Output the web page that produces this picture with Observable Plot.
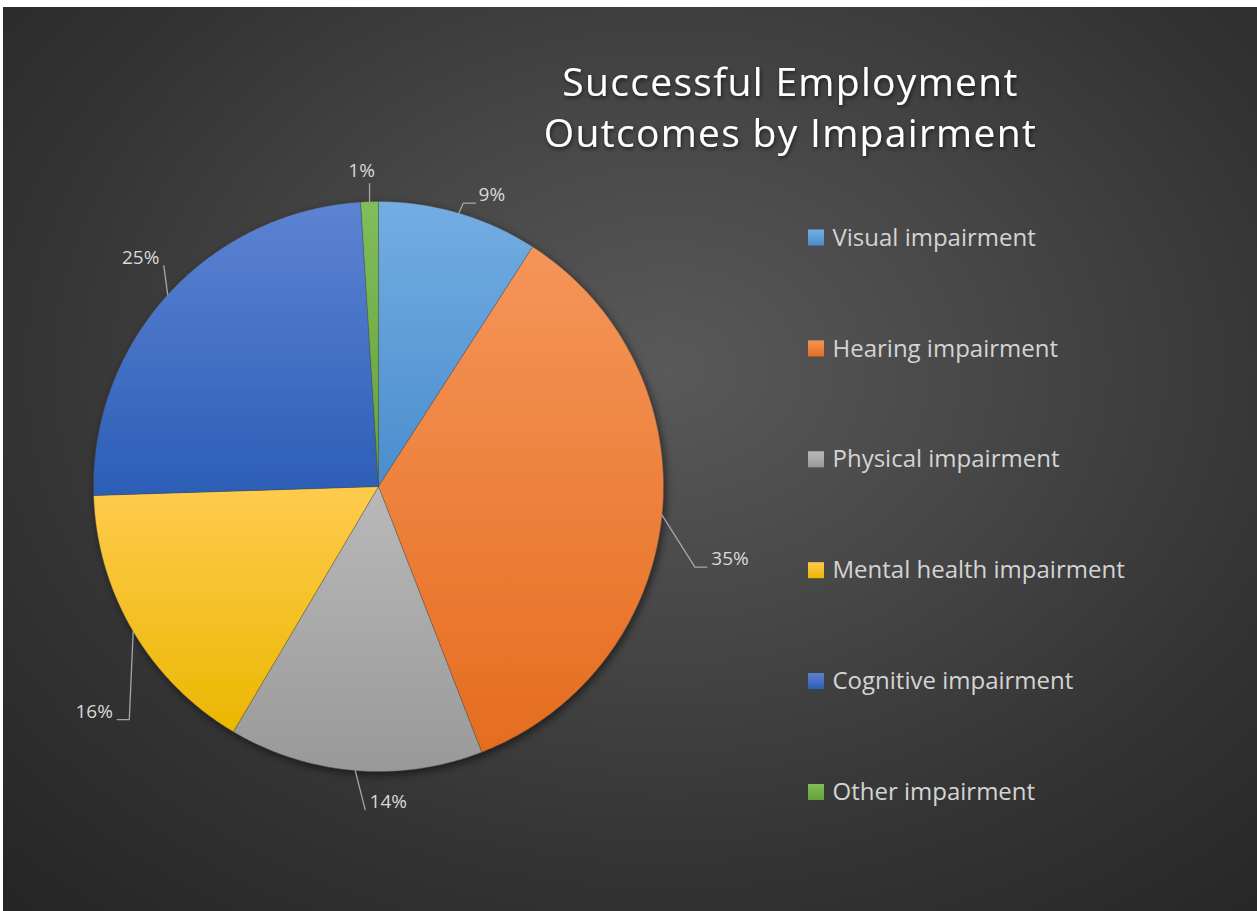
<!DOCTYPE html>
<html><head><meta charset="utf-8">
<script src="https://cdn.jsdelivr.net/npm/d3@7"></script>
<script src="https://cdn.jsdelivr.net/npm/@observablehq/plot@0.6"></script>
<style>
html,body{margin:0;padding:0;background:#fff;}
#chart{position:absolute;left:3px;top:7px;}
</style></head><body><div id="chart"></div>
<script>
// ---- data ----
const categories = ["Visual impairment","Hearing impairment","Physical impairment","Mental health impairment","Cognitive impairment","Other impairment"];
const shares = [9.1, 35.0, 14.4, 16.0, 24.5, 1.0];
const pctLabels = ["9%","35%","14%","16%","25%","1%"];
const titleLines = ["Successful Employment","Outcomes by Impairment"];

// ---- style / layout ----
const gradTop    = ["#74ADE2","#F5955A","#B9B9B9","#FFCB4E","#5D83D3","#80BD5C"];
const gradBottom = ["#4A8DCF","#E56D1E","#999999","#EBB700","#2C5EB6","#64A13B"];
const W = 1254, H = 904;
const cx = 375, cy = 479, R = 285;
const labelOffsets = [[33,-18],[68,44],[33,31],[-39,80],[-27,-37],[-8,-31]];
const FONT = "Open Sans";
const legendX = 805, legendTop = 230.5, legendStep = 110.9, legendBox = 16;

// ---- geometry derived from data ----
const total = d3.sum(shares);
let cum = 0;
const slices = shares.map((v, i) => {
  const a0 = cum / total * 2 * Math.PI; cum += v;
  const a1 = cum / total * 2 * Math.PI;
  return {i, name: categories[i], a0, a1, mid: (a0 + a1) / 2};
});
const pt = (a, r) => [cx + r * Math.sin(a), cy - r * Math.cos(a)];
const pieRows = slices.flatMap(s => {
  const n = Math.max(2, Math.ceil((s.a1 - s.a0) / (Math.PI / 360)));
  const rows = [{i: s.i, x: cx, y: cy}];
  for (let k = 0; k <= n; k++) {
    const [x, y] = pt(s.a0 + (s.a1 - s.a0) * k / n, R);
    rows.push({i: s.i, x, y});
  }
  rows.push({i: s.i, x: cx, y: cy});
  return rows;
});
const labelRows = [], leaderRows = [];
slices.forEach(s => {
  const [ax, ay] = pt(s.mid, R);
  const [dx, dy] = labelOffsets[s.i];
  const lx = ax + dx, ly = ay + dy;
  const hw = pctLabels[s.i].length * 6.7;
  labelRows.push({i: s.i, x: lx, y: ly, label: pctLabels[s.i]});
  leaderRows.push({i: s.i, x: ax, y: ay});
  if (ax >= lx - hw && ax <= lx + hw) {
    leaderRows.push({i: s.i, x: ax, y: ly + 13});
  } else {
    const side = lx > ax ? -1 : 1;
    const ex = lx + side * (hw + 3), ey = ly + 8;
    const elx = ex + side * 12;
    if ((side < 0 && elx > ax) || (side > 0 && elx < ax)) leaderRows.push({i: s.i, x: elx, y: ey});
    leaderRows.push({i: s.i, x: ex, y: ey});
  }
});
const legendRows = categories.map((c, i) => ({i, name: c, y: legendTop + i * legendStep}));

const chart = Plot.plot({
  width: W, height: H, margin: 0,
  x: {domain: [0, W], range: [0, W], axis: null},
  y: {domain: [0, H], range: [0, H], axis: null},
  color: {type: "identity"},
  style: {background: "radial-gradient(ellipse 75% 80% at 53% 40%, #595959 0%, #474747 35%, #333333 70%, #262626 100%)", fontFamily: FONT, overflow: "visible"},
  marks: [
    Plot.line(pieRows, {x: "x", y: "y", z: "i", fill: d => `url(#sg${d.i})`, stroke: "rgba(70,70,70,0.6)", strokeWidth: 0.6}),
    Plot.line(leaderRows, {x: "x", y: "y", z: "i", stroke: "#a6a6a6", strokeWidth: 1.3}),
    Plot.text(labelRows, {x: "x", y: "y", text: "label", fill: "#d9d9d9", fontSize: 19, fontFamily: FONT}),
    Plot.text(titleLines, {x: 787, y: (d, i) => 76 + i * 51, text: d => d, fill: "#ffffff", fontSize: 39, fontFamily: FONT}),
    Plot.rect(legendRows, {x1: legendX, x2: legendX + legendBox, y1: d => d.y - legendBox / 2, y2: d => d.y + legendBox / 2, fill: d => `url(#sg${d.i})`}),
    Plot.text(legendRows, {x: legendX + legendBox + 8, y: "y", text: "name", textAnchor: "start", fill: "#d4d4d4", fontSize: 24, fontFamily: FONT})
  ]
});

// gradient & filter definitions
const svg = d3.select(chart);
const markGroups = svg.selectAll(":scope > g").nodes();
const defs = svg.insert("defs", ":first-child");
categories.forEach((c, i) => {
  const g = defs.append("linearGradient").attr("id", `sg${i}`).attr("x1", 0).attr("y1", 0).attr("x2", 0).attr("y2", 1);
  g.append("stop").attr("offset", "0%").attr("stop-color", gradTop[i]);
  g.append("stop").attr("offset", "100%").attr("stop-color", gradBottom[i]);
});
const f1 = defs.append("filter").attr("id", "pieShadow").attr("x", "-10%").attr("y", "-10%").attr("width", "125%").attr("height", "125%");
f1.append("feDropShadow").attr("dx", 2).attr("dy", 3).attr("stdDeviation", 4).attr("flood-color", "#000").attr("flood-opacity", 0.55);
const f2 = defs.append("filter").attr("id", "titleShadow").attr("x", "-10%").attr("y", "-30%").attr("width", "120%").attr("height", "160%");
f2.append("feDropShadow").attr("dx", 1).attr("dy", 2).attr("stdDeviation", 2).attr("flood-color", "#000").attr("flood-opacity", 0.6);
if (markGroups[0]) markGroups[0].setAttribute("filter", "url(#pieShadow)");
if (markGroups[3]) {
  markGroups[3].setAttribute("filter", "url(#titleShadow)");
  markGroups[3].setAttribute("letter-spacing", "1.3");
}

document.getElementById("chart").appendChild(chart);
</script></body></html>
